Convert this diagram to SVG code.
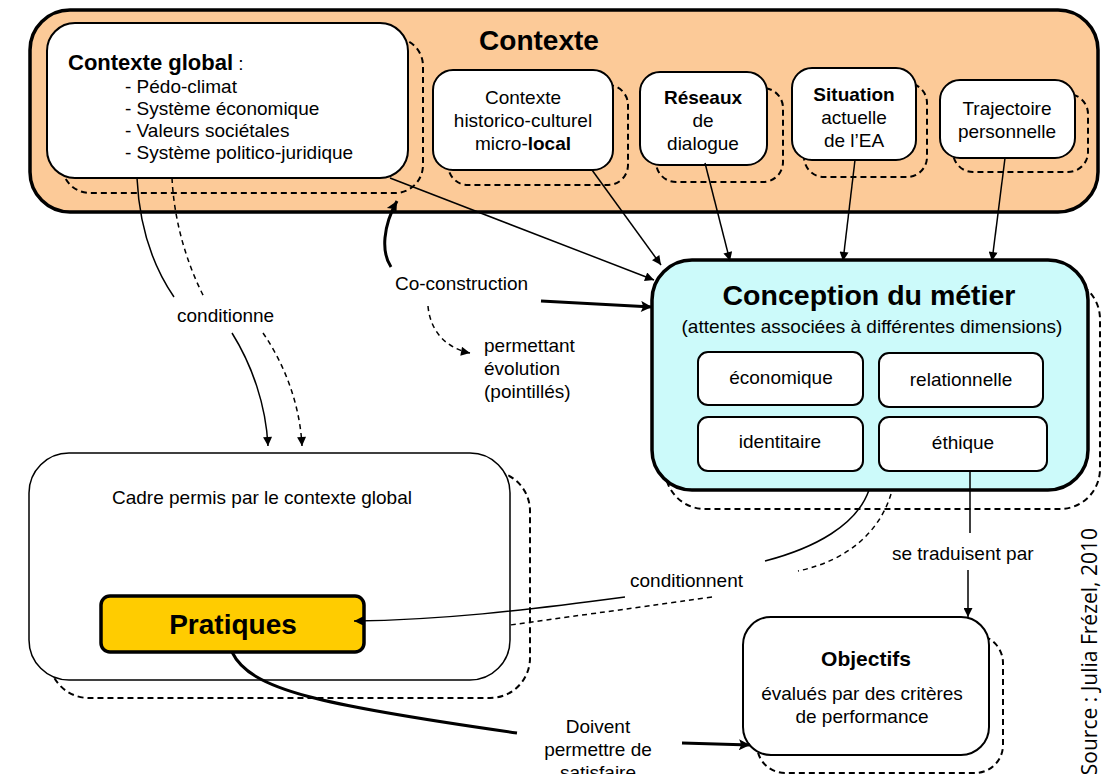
<svg xmlns="http://www.w3.org/2000/svg" width="1103" height="774" viewBox="0 0 1103 774">
<style>
.t{font-family:"Liberation Sans",Arial,sans-serif;font-size:19px;fill:#000}
.b{font-weight:bold}
.m{text-anchor:middle}
.box{fill:#fff;stroke:#000;stroke-width:2}
.sh{fill:none;stroke:#000;stroke-width:2;stroke-dasharray:6 4}
.ln{fill:none;stroke:#000;stroke-width:1.5}
.dl{fill:none;stroke:#000;stroke-width:1.5;stroke-dasharray:5 4}
.th{fill:none;stroke:#000;stroke-width:3}
</style>
<defs>
<marker id="ah" viewBox="0 0 10 10" refX="10" refY="5" markerWidth="11" markerHeight="9" markerUnits="userSpaceOnUse" orient="auto"><path d="M0,0 L10,5 L0,10 z"/></marker>
<marker id="ahb" viewBox="0 0 10 10" refX="10" refY="5" markerWidth="14" markerHeight="11" markerUnits="userSpaceOnUse" orient="auto"><path d="M0,0 L10,5 L0,10 L2,5 z"/></marker>
</defs>
<rect width="1103" height="774" fill="#fff"/>

<g id="contexte">
<rect x="30" y="10" width="1068" height="202" rx="40" fill="#FCCA98" stroke="#000" stroke-width="3.5"/>
<text class="t b m" x="539" y="50" style="font-size:28px">Contexte</text>
</g>

<g id="contexte-global">
<rect class="sh" x="62" y="38" width="361" height="155" rx="28"/>
<rect class="box" x="47" y="23" width="361" height="155" rx="28"/>
<text class="t" x="68" y="70"><tspan class="b" style="font-size:22px">Contexte global</tspan> :</text>
<text class="t" x="125" y="93">- Pédo-climat</text>
<text class="t" x="125" y="115">- Système économique</text>
<text class="t" x="125" y="137">- Valeurs sociétales</text>
<text class="t" x="125" y="159">- Système politico-juridique</text>
</g>

<g id="historico">
<rect class="sh" x="448" y="85" width="180" height="100" rx="20"/>
<rect class="box" x="433" y="70" width="180" height="100" rx="20"/>
<text class="t m" x="523" y="104">Contexte</text>
<text class="t m" x="523" y="127">historico-culturel</text>
<text class="t m" x="523" y="150">micro-<tspan class="b">local</tspan></text>
</g>

<g id="reseaux">
<rect class="sh" x="656" y="88" width="127" height="94" rx="20"/>
<rect class="box" x="640" y="72" width="127" height="93" rx="20"/>
<text class="t b m" x="703" y="104">Réseaux</text>
<text class="t m" x="703" y="127">de</text>
<text class="t m" x="703" y="150">dialogue</text>
</g>

<g id="situation">
<rect class="sh" x="804" y="83" width="123" height="94" rx="20"/>
<rect class="box" x="792" y="68" width="124" height="92" rx="20"/>
<text class="t b m" x="854" y="101">Situation</text>
<text class="t m" x="854" y="124">actuelle</text>
<text class="t m" x="854" y="147">de l’EA</text>
</g>

<g id="trajectoire">
<rect class="sh" x="953" y="94" width="135" height="78" rx="20"/>
<rect class="box" x="940" y="80" width="135" height="78" rx="20"/>
<text class="t m" x="1007" y="115">Trajectoire</text>
<text class="t m" x="1007" y="138">personnelle</text>
</g>

<g id="conception">
<rect class="sh" x="665" y="279" width="435" height="230" rx="40"/>
<rect x="652" y="260" width="436" height="230" rx="40" fill="#CCFAFA" stroke="#000" stroke-width="3.5"/>
<text class="t b m" x="869" y="305" style="font-size:28.5px">Conception du métier</text>
<text class="t m" x="872" y="333">(attentes associées à différentes dimensions)</text>
<g id="economique"><rect class="box" x="698" y="352" width="165" height="53" rx="10"/><text class="t m" x="781" y="384">économique</text></g>
<g id="relationnelle"><rect class="box" x="879" y="353" width="164" height="54" rx="10"/><text class="t m" x="961" y="386">relationnelle</text></g>
<g id="identitaire"><rect class="box" x="698" y="417" width="165" height="54" rx="10"/><text class="t m" x="780" y="448">identitaire</text></g>
<g id="ethique"><rect class="box" x="879" y="417" width="168" height="54" rx="10"/><text class="t m" x="963" y="449">éthique</text></g>
</g>

<g id="cadre">
<rect class="sh" x="49" y="471" width="481" height="227" rx="40"/>
<rect x="29" y="453" width="481" height="227" rx="40" fill="#fff" stroke="#000" stroke-width="1.5"/>
<text class="t" x="112" y="504">Cadre permis par le contexte global</text>
</g>

<g id="pratiques">
<rect x="101" y="596" width="263" height="56" rx="9" fill="#FFCC00" stroke="#000" stroke-width="3.5"/>
<text class="t b m" x="233" y="634" style="font-size:28px">Pratiques</text>
</g>

<g id="objectifs">
<rect class="sh" x="757" y="635" width="246" height="138" rx="28"/>
<rect class="box" x="743" y="617" width="246" height="138" rx="28"/>
<text class="t b m" x="866" y="666" style="font-size:21px">Objectifs</text>
<text class="t m" x="862" y="700">évalués par des critères</text>
<text class="t m" x="862" y="723">de performance</text>
</g>

<g id="connectors">
<path class="ln" d="M137,178 C139,220 150,262 174,297"/>
<path class="dl" d="M172,178 C174,220 186,262 204,297"/>
<path class="ln" d="M232,333 C252,365 266,405 268,446" marker-end="url(#ah)"/>
<path class="dl" d="M263,333 C285,365 300,405 302,446" marker-end="url(#ah)"/>
<path class="ln" d="M390,178 L654,280" marker-end="url(#ah)"/>
<path class="ln" d="M592,170 L661,265" marker-end="url(#ah)"/>
<path class="ln" d="M705,163 L730,261" marker-end="url(#ah)"/>
<path class="ln" d="M855,160 L843,261" marker-end="url(#ah)"/>
<path class="ln" d="M1005,158 L992,261" marker-end="url(#ah)"/>
<path class="th" d="M391,267 C381,252 383,226 397,201" marker-end="url(#ahb)"/>
<path class="th" d="M541,301 L652,307" marker-end="url(#ahb)"/>
<path class="dl" d="M428,306 C430,330 445,348 470,353" marker-end="url(#ah)"/>
<path class="ln" d="M869,490 C857,525 815,548 765,561"/>
<path class="ln" d="M625,597 C520,611 440,620 354,621" marker-end="url(#ah)"/>
<path class="dl" d="M891,494 C880,530 850,560 798,571"/>
<path class="dl" d="M712,597 C620,610 560,618 510,625"/>
<path class="ln" d="M970,471 L970,533"/>
<path class="ln" d="M968,570 L968,617" marker-end="url(#ah)"/>
<path class="th" d="M232,652 C250,690 320,705 517,733"/>
<path class="th" d="M682,743 L750,745" marker-end="url(#ahb)"/>
<g id="connector-labels">
<text class="t" x="177" y="322">conditionne</text>
<text class="t" x="395" y="290">Co-construction</text>
<text class="t" x="484" y="352">permettant</text>
<text class="t" x="484" y="375">évolution</text>
<text class="t" x="484" y="398">(pointillés)</text>
<text class="t" x="630" y="587">conditionnent</text>
<text class="t" x="892" y="560">se traduisent par</text>
<text class="t m" x="598" y="733">Doivent</text>
<text class="t m" x="598" y="756">permettre de</text>
<text class="t m" x="598" y="779">satisfaire</text>
</g>
</g>

<g id="source">
<text transform="translate(1097,528) rotate(-90)" style="font-family:'Open Sans','Noto Sans',sans-serif;font-size:21px;text-anchor:end;fill:#000">Source : Julia Frézel, 2010</text>
</g>
</svg>
